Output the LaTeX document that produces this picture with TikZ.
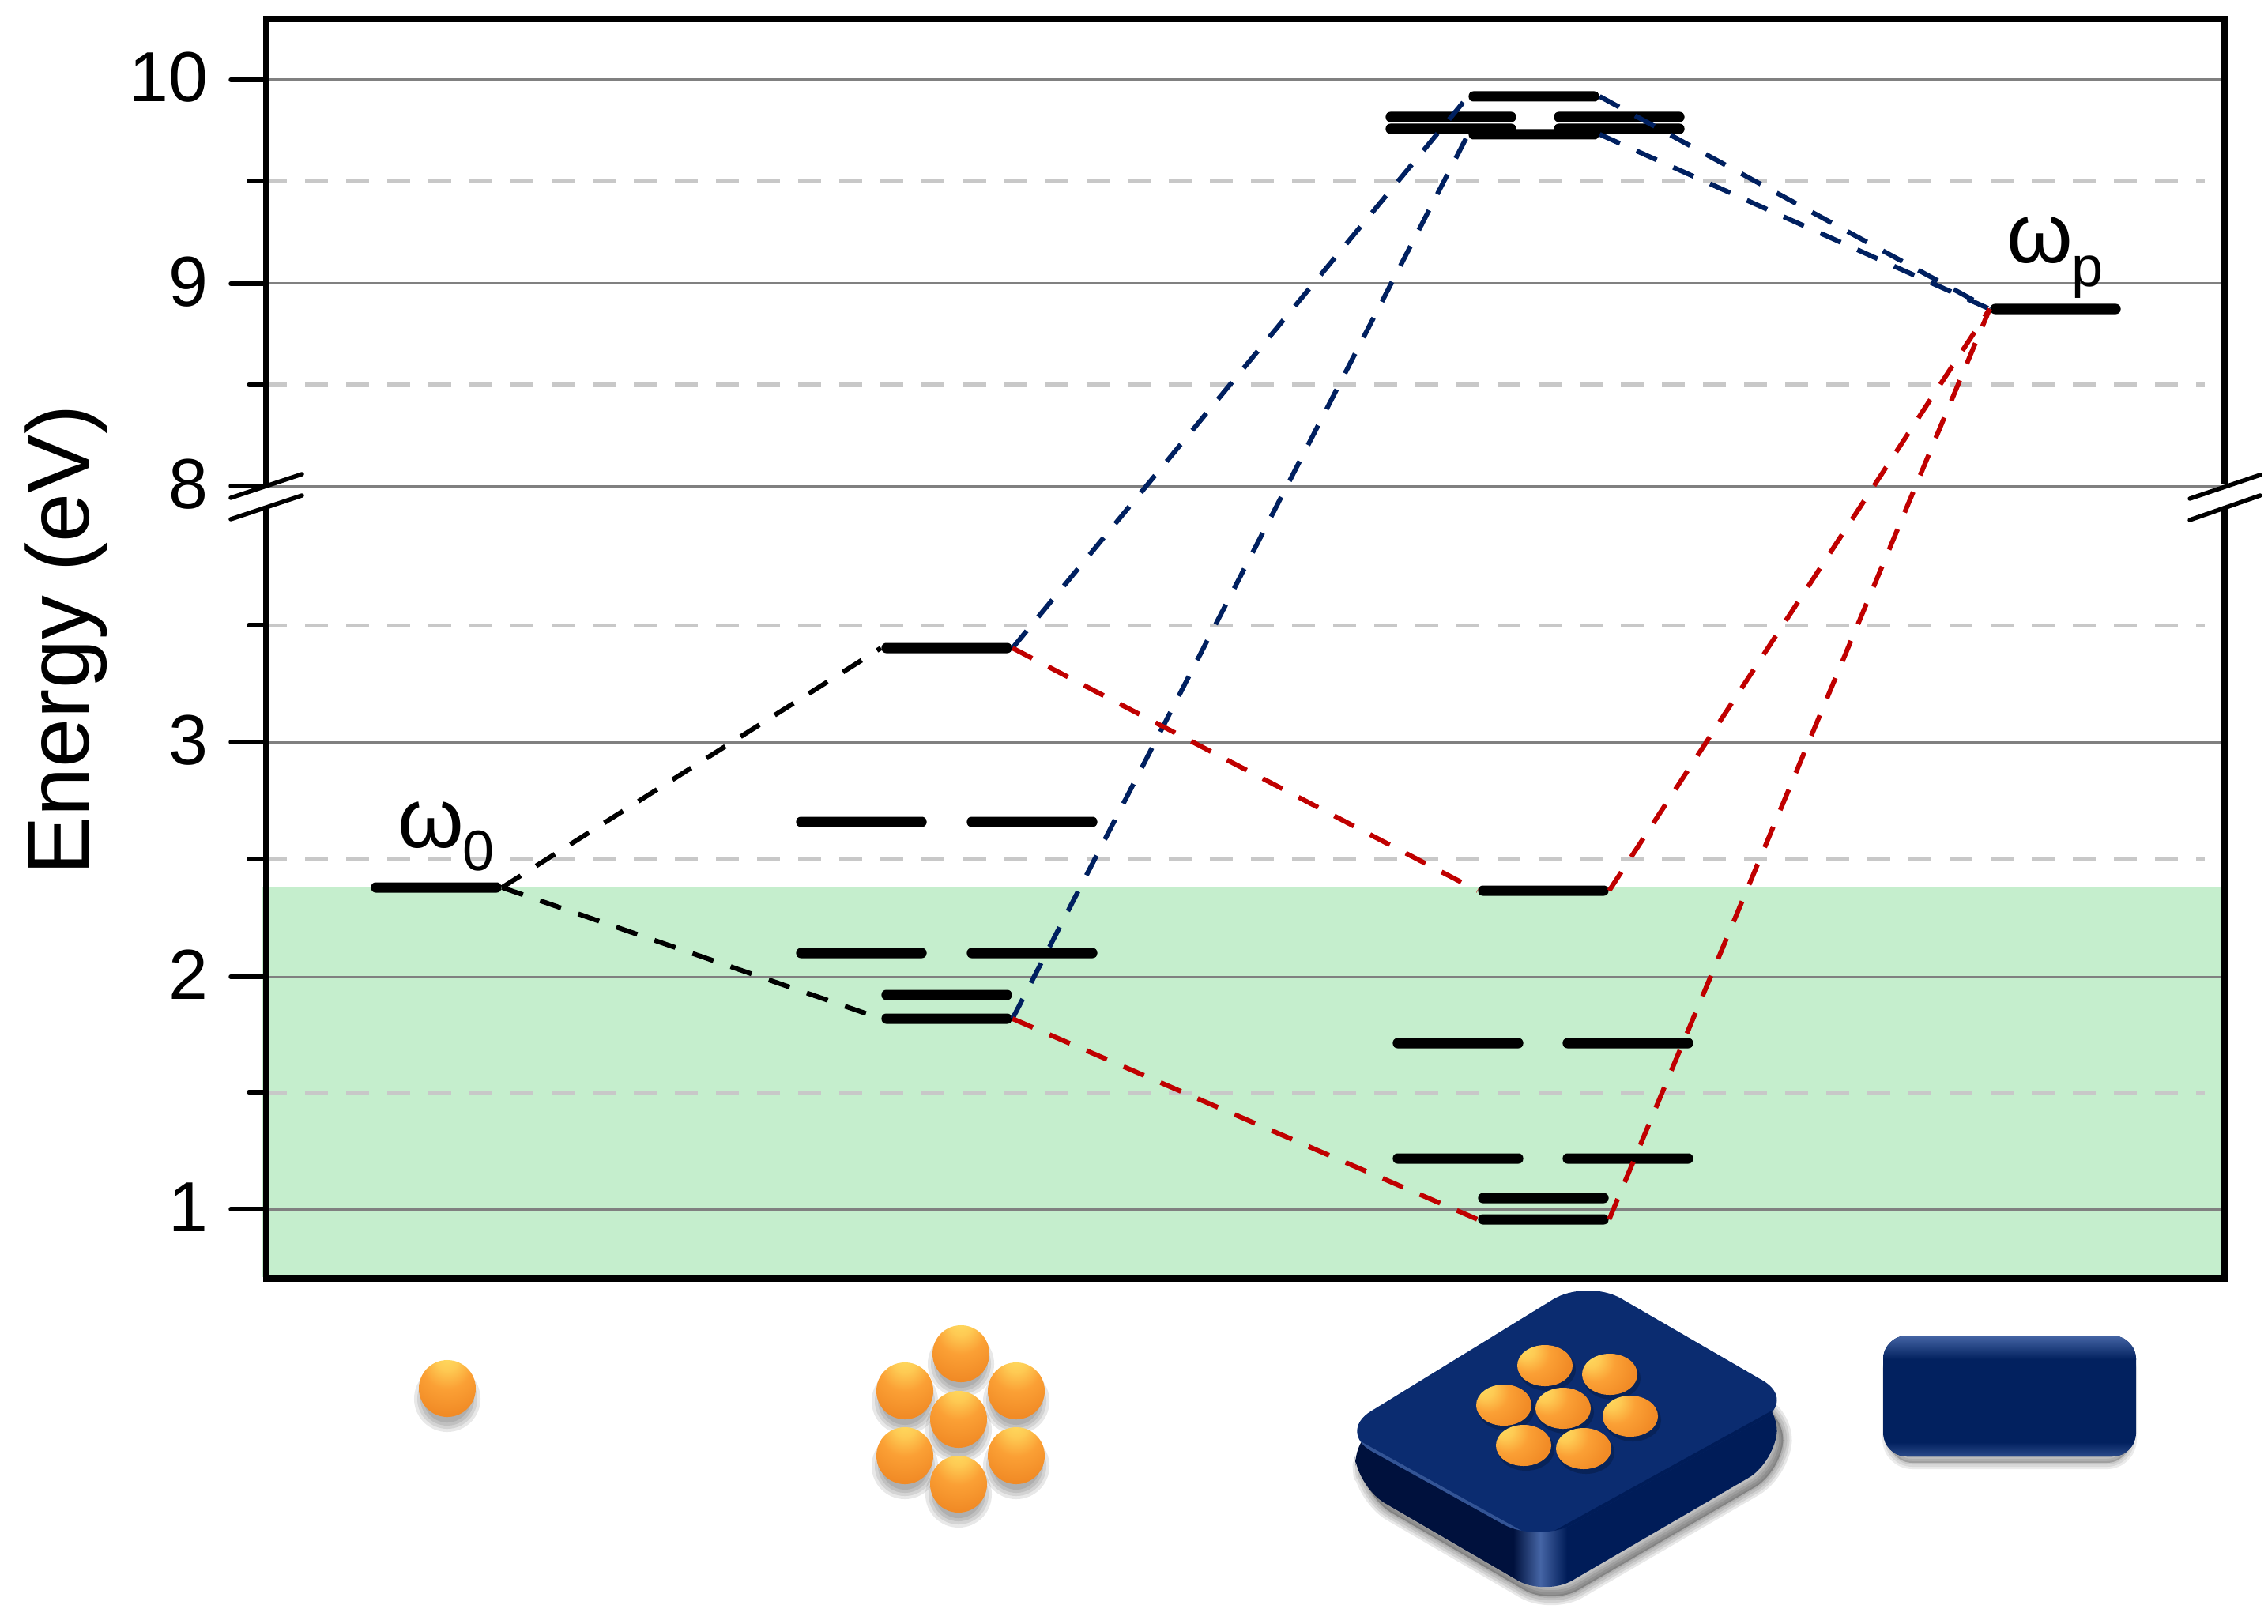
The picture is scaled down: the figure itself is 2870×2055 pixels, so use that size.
\documentclass[tikz,border=0pt]{standalone}
\usepackage{fontspec}
\setmainfont{Liberation Sans}
\definecolor{bandgreen}{HTML}{C5EECD}
\definecolor{gridgray}{HTML}{808080}
\definecolor{halfgray}{HTML}{C8C8C8}
\definecolor{linkblue}{HTML}{002060}
\definecolor{linkred}{HTML}{C00000}
\definecolor{ballhi}{HTML}{FFDC60}
\definecolor{ballmid}{HTML}{FBA035}
\definecolor{ballbase}{HTML}{F18B26}
\definecolor{ballrim}{HTML}{C06A18}
\definecolor{balledge}{HTML}{6E4210}
\definecolor{metalface}{HTML}{0B2C70}
\definecolor{metalbox}{HTML}{02215F}
\definecolor{metaldark}{HTML}{00113D}
\definecolor{metalside}{HTML}{001C58}
\definecolor{metallight}{HTML}{4565A5}
\pgfdeclareradialshading{orangeball}{\pgfpoint{0bp}{30bp}}{%
  color(0bp)=(ballhi); color(10bp)=(ballhi!70!ballmid); color(22bp)=(ballmid); color(38bp)=(ballbase);
  color(58bp)=(ballbase); color(68bp)=(ballrim); color(78bp)=(balledge)}
\tikzset{
  level/.style={fill=black, inner sep=0pt, minimum width=1.65cm, minimum height=0.13cm, rounded corners=0.06cm},
  link/.style={line width=0.06cm, dash pattern=on 0.28cm off 0.23cm},
  halfline/.style={halfgray, line width=0.05cm, dash pattern=on 0.29cm off 0.23cm},
  axisline/.style={line width=0.08cm, line cap=round},
  breakmark/.style={line width=0.055cm, line cap=round},
  ticklabel/.style={anchor=base east, inner sep=0pt, font=\fontsize{25.5}{26}\selectfont},
  freqlabel/.style={anchor=base west, inner sep=0pt, font=\fontsize{30.5}{31}\selectfont},
}
\newcommand{\subfreq}[1]{\raisebox{-0.29cm}{\fontsize{20.5}{21}\selectfont #1}}
\newcommand{\blockbody}{(1712,1815) -- (1718,1882) -- (1955,2020) -- (2247,1850) -- (2250,1772) -- (2008,1700) -- cycle}
\newcommand{\blockface}{(2008,1618) -- (2274,1772) -- (1946,1953) -- (1692,1812) -- cycle}
\begin{document}
\begin{tikzpicture}[x=0.01cm, y=-0.01cm]
    \useasboundingbox (0,0) rectangle (2870,2055);

    % Green band
    \fill[bandgreen] (331,1122) rectangle (2815,1616);

    % Grid lines at whole and half values
    \foreach \y in {101,359,615,939,1236,1530}
        \draw[gridgray, line width=0.03cm] (337,\y) -- (2815,\y);
    \foreach \y in {229,487,791,1087,1382}
        \draw[halfline] (334,\y) -- (2790,\y);

    % Frame, with the gap at the axis break
    \draw[axisline, line join=miter, line cap=butt] (337,612) -- (337,24) -- (2815,24) -- (2815,612);
    \draw[axisline, line join=miter, line cap=butt] (337,643) -- (337,1618) -- (2815,1618) -- (2815,643);

    % Ticks
    \foreach \y in {101,359,615,939,1236,1530}
        \draw[axisline, line width=0.055cm] (292,\y) -- (337,\y);
    \foreach \y in {229,487,791,1087,1382}
        \draw[axisline, line width=0.055cm] (315,\y) -- (337,\y);

    % Axis break marks
    \draw[breakmark] (292,630) -- (382,600);
    \draw[breakmark] (292,657) -- (382,627);
    \draw[breakmark] (2771,631) -- (2860,601);
    \draw[breakmark] (2771,658) -- (2860,627);

    % Tick labels
    \node[ticklabel] (lab10) at (264,129) {10};
    \node[ticklabel] (lab9) at (264,387) {9};
    \node[ticklabel] (lab8) at (264,643) {8};
    \node[ticklabel] (lab3) at (264,967) {3};
    \node[ticklabel] (lab2) at (264,1264) {2};
    \node[ticklabel] (lab1) at (264,1558) {1};
    \node[rotate=90, anchor=base, inner sep=0pt, font=\fontsize{31.7}{32}\selectfont] (axislabel) at (112,810) {Energy (eV)};

    % Levels of the single particle
    \node[level] (single) at (552,1123) {};

    % Levels of the cluster
    \node[level] (clusterTop) at (1198,820) {};
    \node[level] (clusterA) at (1090,1040) {};
    \node[level] (clusterB) at (1306,1040) {};
    \node[level] (clusterC) at (1090,1206) {};
    \node[level] (clusterD) at (1306,1206) {};
    \node[level] (clusterE) at (1198,1259) {};
    \node[level] (clusterLow) at (1198,1289) {};

    % Upper levels of the hybrid
    \node[level] (hybridTop) at (1941,122) {};
    \node[level] (hybridA) at (1836,148) {};
    \node[level] (hybridB) at (2049,148) {};
    \node[level] (hybridC) at (1836,163) {};
    \node[level] (hybridD) at (2049,163) {};
    \node[level] (hybridUp) at (1941,170) {};

    % Lower levels of the hybrid
    \node[level] (hybridMid) at (1953,1127) {};
    \node[level] (hybridE) at (1845,1320) {};
    \node[level] (hybridF) at (2060,1320) {};
    \node[level] (hybridG) at (1845,1466) {};
    \node[level] (hybridH) at (2060,1466) {};
    \node[level] (hybridI) at (1953,1516) {};
    \node[level] (hybridLow) at (1953,1543) {};

    % Level of the metal
    \node[level] (metal) at (2601,391) {};

    % Frequency labels
    \node[freqlabel] (labsingle) at (503,1072) {ω\kern-0.02cm\subfreq{0}};
    \node[freqlabel] (labmetal) at (2539,333) {ω\kern-0.02cm\subfreq{p}};

    % Connect the levels
    \draw[link] (single.east) -- (clusterTop.west);
    \draw[link] (single.east) -- (clusterLow.west);
    \draw[link, linkblue] (clusterTop.east) -- (hybridTop.west);
    \draw[link, linkblue] (clusterLow.east) -- (hybridUp.west);
    \draw[link, linkblue] (hybridTop.east) -- (metal.west);
    \draw[link, linkblue] (hybridUp.east) -- (metal.west);
    \draw[link, linkred] (clusterTop.east) -- (hybridMid.west);
    \draw[link, linkred] (clusterLow.east) -- (hybridLow.west);
    \draw[link, linkred] (hybridMid.east) -- (metal.west);
    \draw[link, linkred] (hybridLow.east) -- (metal.west);

    % Single particle and cluster below the frame
    \foreach \x/\y in {566/1757,1216/1713,1145/1760,1286/1760,1213/1796,1145/1842,1286/1842,1213/1878}
        \foreach \r in {0.30,0.34,0.38,0.42}
            \fill[black, opacity=0.09] (\x,\y+13) circle[radius=\r cm];
    \foreach \x/\y in {566/1757,1216/1713,1145/1760,1286/1760,1213/1796,1145/1842,1286/1842,1213/1878}
        \shade[shading=orangeball] (\x,\y) circle[radius=0.36cm];

    % Metal block with the particles on it
    \foreach \w in {0.04,0.1,0.16,0.22}
        \draw[black, opacity=0.09, line width=\w cm, line join=round, rounded corners=0.4cm, shift={(8,12)}] \blockbody;
    \fill[black, opacity=0.25, rounded corners=0.4cm, shift={(8,12)}] \blockbody;
    \begin{scope}
        \clip[rounded corners=0.4cm] \blockbody;
        \fill[metaldark] (1690,1600) rectangle (1915,2050);
        \fill[metalside] (1983,1600) rectangle (2290,2050);
        \shade[left color=metaldark, right color=metalside, middle color=metallight] (1915,1900) rectangle (1983,2050);
    \end{scope}
    \fill[metalface, rounded corners=0.5cm] \blockface;
    \begin{scope}
        \clip[rounded corners=0.5cm] \blockface;
        \draw[metallight, opacity=0.7, line width=0.08cm] (1692,1812) -- (1946,1953);
        \draw[metalside, line width=0.08cm] (1946,1953) -- (2274,1772);
    \end{scope}
    \foreach \x/\y in {1955/1728,2037/1739,1903/1778,1978/1782,2063/1792,1928/1829,2004/1833}
        \fill[black, opacity=0.2] (\x+3,\y+5) ellipse[x radius=0.36cm, y radius=0.27cm];
    \foreach \x/\y in {1955/1728,2037/1739,1903/1778,1978/1782,2063/1792,1928/1829,2004/1833}
        \shade[shading=orangeball, shading angle=50] (\x,\y) ellipse[x radius=0.35cm, y radius=0.26cm];

    % Metal slab
    \foreach \w in {0.04,0.1,0.16}
        \draw[black, opacity=0.08, line width=\w cm, rounded corners=0.3cm] (2390,1705) rectangle (2696,1851);
    \fill[black, opacity=0.2, rounded corners=0.3cm] (2390,1705) rectangle (2696,1851);
    \fill[metalbox, rounded corners=0.3cm] (2383,1690) rectangle (2703,1843);
    \begin{scope}
        \clip[rounded corners=0.3cm] (2383,1690) rectangle (2703,1843);
        \shade[top color=metallight, bottom color=metalbox] (2383,1690) rectangle (2703,1720);
        \shade[top color=metalbox, bottom color=metallight!60!metalbox] (2383,1825) rectangle (2703,1843);
    \end{scope}
\end{tikzpicture}
\end{document}
